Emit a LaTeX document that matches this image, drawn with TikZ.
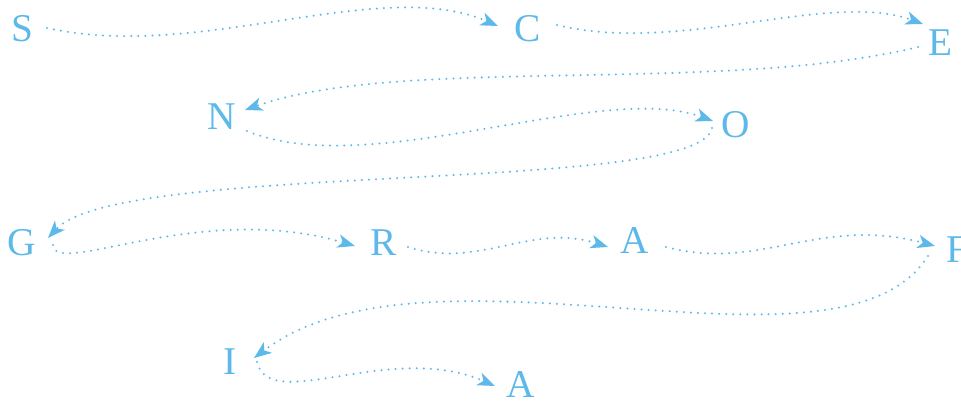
\documentclass[tikz,border=0pt]{standalone}
\usepackage{fontspec}
\setmainfont{Liberation Serif}
\usetikzlibrary{arrows.meta,calc}
\definecolor{lb}{RGB}{93,185,233}
\begin{document}
\begin{tikzpicture}[x=0.75pt,y=-0.75pt,
  letter/.style={text=lb, font=\fontsize{29.5}{29.5}\selectfont, inner sep=0pt, outer sep=0pt, text height=19.3pt, text depth=0pt},
  link/.style={draw=lb, line width=1.7pt, dash pattern=on 0pt off 5.3pt, line cap=round,
    -{Stealth[length=13pt,width=10pt,inset=3.5pt]}}]
\useasboundingbox (0,0) rectangle (961,401);
\node[letter] (S) at (22.5,28.5) {S};
\node[letter] (C) at (527.5,28.5) {C};
\node[letter] (E) at (941,43) {E};
\node[letter] (N) at (221.5,116.5) {N};
\node[letter] (O) at (736,125) {O};
\node[letter] (G) at (21.5,242.5) {G};
\node[letter] (R) at (384,242.5) {R};
\node[letter] (A1) at (635,241) {A};
\node[letter] (F) at (957,250) {F};
\node[letter] (I) at (230,362) {I};
\node[letter] (A2) at (520.5,384.5) {A};

\draw[link] ($(S)+(24.5,-0.5)$) .. controls (200,62) and (380,-25) .. ($(C)+(-29.5,-2.5)$);
\draw[link] ($(C)+(29.5,-3.5)$) .. controls (680,55) and (830,-10) .. ($(E)+(-18,-19)$);
\draw[link] ($(E)+(-23,4)$) .. controls (720,95) and (400,55) .. ($(N)+(23.5,-6.5)$);
\draw[link] ($(N)+(25.5,14.5)$) .. controls (370,182) and (600,80) .. ($(O)+(-23,-4)$);
\draw[link] ($(O)+(-24,3)$) .. controls (700,195) and (120,160) .. ($(G)+(26.5,-4.5)$);
\draw[link] ($(G)+(31.5,2.5)$) .. controls (55,278) and (200,200) .. ($(R)+(-29,3.5)$);
\draw[link] ($(R)+(24,4.5)$) .. controls (480,270) and (530,222) .. ($(A1)+(-27,6)$);
\draw[link] ($(A1)+(31,6)$) .. controls (760,272) and (820,215) .. ($(F)+(-22,-4)$);
\draw[link] ($(F)+(-29,6)$) .. controls (840,395) and (430,225) .. ($(I)+(24,-4)$);
\draw[link] ($(I)+(27,0)$) .. controls (270,415) and (390,340) .. ($(A2)+(-25.5,1.5)$);
\end{tikzpicture}
\end{document}
